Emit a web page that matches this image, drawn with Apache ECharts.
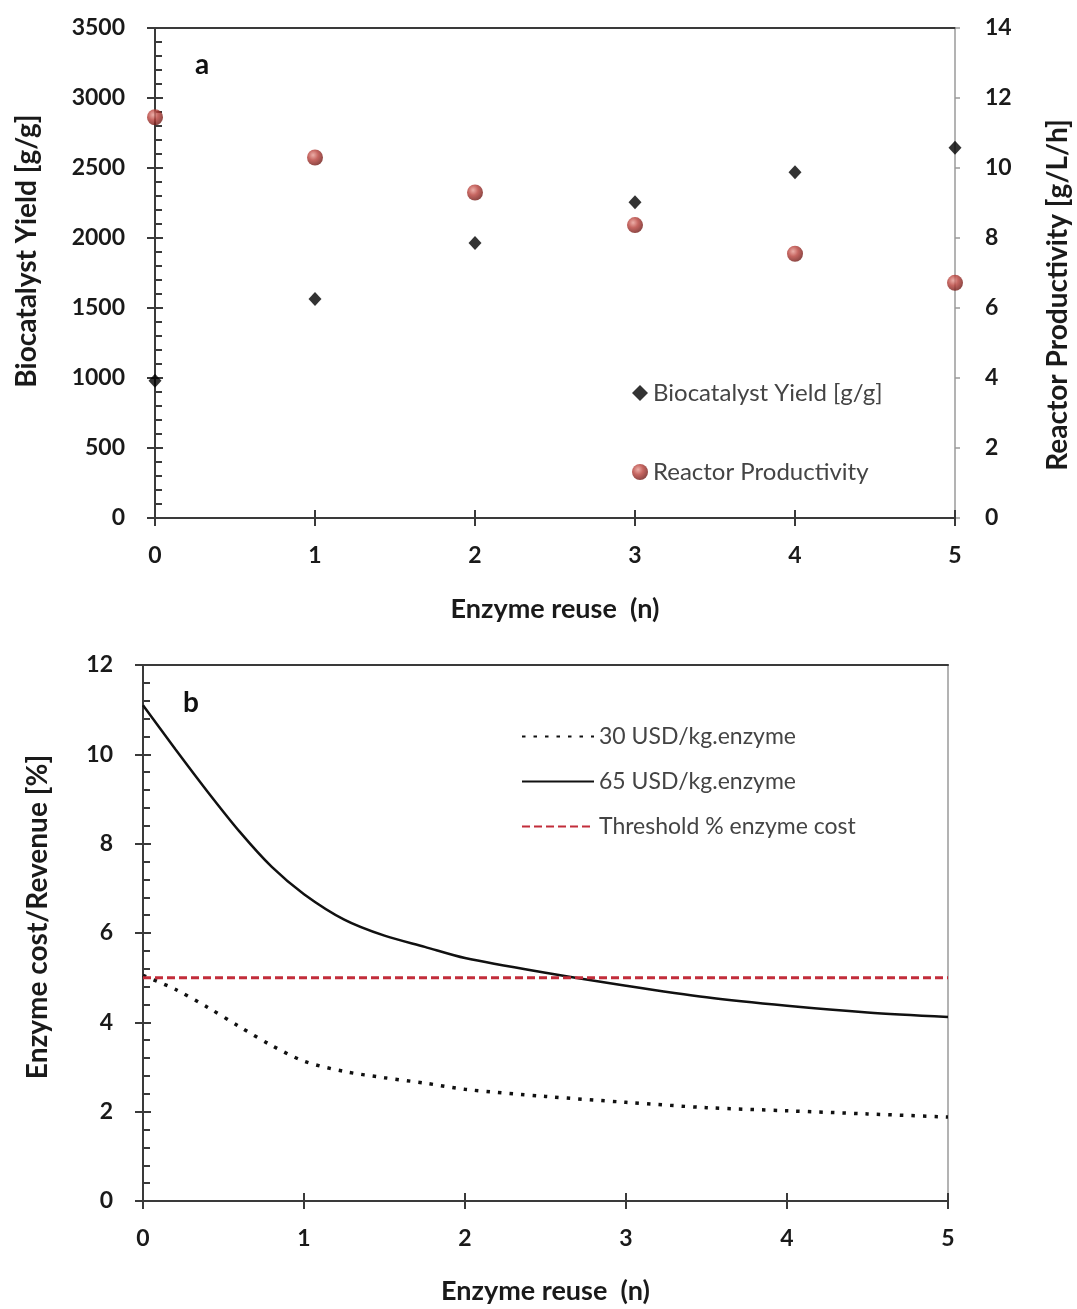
<!DOCTYPE html>
<html lang="en">
<head>
<meta charset="UTF-8">
<title>Enzyme reuse</title>
<script src="https://cdn.jsdelivr.net/npm/echarts@6/dist/echarts.min.js"></script>
<style>
  body { margin: 0; background: #fff; }
  #chart { width: 1077px; height: 1309px; }
</style>
</head>
<body>
<div id="chart"></div>
<script>
  // panel a: values per reuse cycle
  const reuse = [0, 1, 2, 3, 4, 5];
  const biocatYield = [980, 1565, 1965, 2255, 2470, 2645];
  const reactorProd = [11.45, 10.3, 9.3, 8.37, 7.55, 6.72];

  // panel b: curves
  const curveN = [0, 0.2, 0.4, 0.6, 0.8, 1, 1.25, 1.5, 1.75, 2, 2.5, 3, 3.5, 4, 4.5, 5];
  const cost30 = [5.05, 4.74, 4.34, 3.9, 3.48, 3.13, 2.9, 2.76, 2.64, 2.5, 2.34, 2.21, 2.09, 2.02, 1.95, 1.88];
  const cost65 = [11.1, 10.12, 9.17, 8.27, 7.48, 6.87, 6.3, 5.94, 5.69, 5.44, 5.11, 4.82, 4.56, 4.37, 4.22, 4.12];
  const thresholdN = [0, 5];
  const threshold = [5, 5];

  const FONT = 'Lato';
  const dark = '#3a3a3a';

  const chart = echarts.init(document.getElementById('chart'));

  function pairs(xs, ys) {
    return xs.map((x, i) => [x, ys[i]]);
  }

  const tickLabel = {
    fontFamily: FONT, fontWeight: 'bold', fontSize: 23, color: '#1a1a1a',
    formatter: v => String(v)
  };
  const xNameStyle = { fontFamily: FONT, fontWeight: 'bold', fontSize: 27, color: '#1a1a1a' };
  function yName(pad) {
    return { fontFamily: FONT, fontWeight: 'bold', fontSize: 28, color: '#1a1a1a', padding: pad };
  }

  // main x axis (ticks inside) + overlay (ticks outside) + top border line
  function xAxes(grid, nameGap) {
    return [
      {
        gridIndex: grid, type: 'value', min: 0, max: 5, interval: 1, position: 'bottom',
        name: 'Enzyme reuse  (n)', nameLocation: 'middle', nameGap: nameGap, nameTextStyle: xNameStyle,
        axisLine: { onZero: false, lineStyle: { color: dark, width: 2 } },
        axisTick: { inside: true, length: 8, lineStyle: { color: dark, width: 2 } },
        axisLabel: Object.assign({ margin: 26 }, tickLabel),
        splitLine: { show: false }
      },
      {
        gridIndex: grid, type: 'value', min: 0, max: 5, interval: 1, position: 'bottom',
        axisLine: { show: false, onZero: false },
        axisTick: { length: 8, lineStyle: { color: dark, width: 2 } },
        axisLabel: { show: false }, splitLine: { show: false }
      },
      {
        gridIndex: grid, type: 'value', min: 0, max: 5, position: 'top',
        axisLine: { onZero: false, lineStyle: { color: dark, width: 2 } },
        axisTick: { show: false }, axisLabel: { show: false }, splitLine: { show: false }
      }
    ];
  }

  const option = {
    animation: false,
    title: [
      { text: 'a', left: 190, top: 46, textStyle: { fontFamily: FONT, fontWeight: 'bold', fontSize: 28, color: '#111' } },
      { text: 'b', left: 178, top: 684, textStyle: { fontFamily: FONT, fontWeight: 'bold', fontSize: 28, color: '#111' } }
    ],
    legend: [
      {
        orient: 'vertical', left: 627, top: 376, itemGap: 55, itemWidth: 16, itemHeight: 16,
        textStyle: { fontFamily: FONT, fontSize: 24, color: '#444' },
        data: ['Biocatalyst Yield [g/g]', 'Reactor Productivity']
      },
      {
        orient: 'vertical', left: 516, top: 720, itemGap: 22, itemWidth: 72, itemHeight: 14,
        textStyle: { fontFamily: FONT, fontSize: 23, color: '#444' },
        itemStyle: { opacity: 0 },
        data: ['30 USD/kg.enzyme', '65 USD/kg.enzyme', 'Threshold % enzyme cost']
      }
    ],
    grid: [
      { left: 155, right: 122, top: 28, height: 490, outerBoundsMode: 'none', containLabel: false },
      { left: 143, right: 129, top: 665, height: 536, outerBoundsMode: 'none', containLabel: false }
    ],
    xAxis: [].concat(xAxes(0, 78), xAxes(1, 77)),
    yAxis: [
      // panel a left
      {
        gridIndex: 0, type: 'value', min: 0, max: 3500, interval: 500, position: 'left',
        name: 'Biocatalyst Yield [g/g]', nameLocation: 'middle', nameGap: 114,
        nameTextStyle: yName([0, 0, 0, 44]),
        axisLine: { show: true, onZero: false, lineStyle: { color: dark, width: 2 } },
        axisTick: { inside: true, length: 8, lineStyle: { color: dark, width: 2 } },
        minorTick: { show: true, splitNumber: 5, length: 7, lineStyle: { color: dark, width: 2 } },
        axisLabel: Object.assign({ margin: 30 }, tickLabel),
        splitLine: { show: false }
      },
      // panel a right
      {
        gridIndex: 0, type: 'value', min: 0, max: 14, interval: 2, position: 'right',
        name: 'Reactor Productivity [g/L/h]', nameLocation: 'middle', nameGap: 89, nameRotate: 90,
        nameTextStyle: yName([0, 44, 0, 0]),
        axisLine: { show: true, onZero: false, lineStyle: { color: '#9a9a9a', width: 1.5 } },
        axisTick: { length: 5, lineStyle: { color: '#9a9a9a', width: 1.5 } },
        axisLabel: Object.assign({ margin: 30 }, tickLabel),
        splitLine: { show: false }
      },
      // panel a left overlay ticks
      {
        gridIndex: 0, type: 'value', min: 0, max: 3500, interval: 500, position: 'left',
        axisLine: { show: false },
        axisTick: { show: true, length: 8, lineStyle: { color: dark, width: 2 } },
        axisLabel: { show: false }, splitLine: { show: false }
      },
      // panel b left
      {
        gridIndex: 1, type: 'value', min: 0, max: 12, interval: 2, position: 'left',
        name: 'Enzyme cost/Revenue [%]', nameLocation: 'middle', nameGap: 91,
        nameTextStyle: yName([0, 0, 0, 32]),
        axisLine: { show: true, onZero: false, lineStyle: { color: dark, width: 2 } },
        axisTick: { inside: true, length: 8, lineStyle: { color: dark, width: 2 } },
        minorTick: { show: true, splitNumber: 5, length: 7, lineStyle: { color: dark, width: 2 } },
        axisLabel: Object.assign({ margin: 30 }, tickLabel),
        splitLine: { show: false }
      },
      // panel b left overlay ticks
      {
        gridIndex: 1, type: 'value', min: 0, max: 12, interval: 2, position: 'left',
        axisLine: { show: false },
        axisTick: { show: true, length: 8, lineStyle: { color: dark, width: 2 } },
        axisLabel: { show: false }, splitLine: { show: false }
      },
      // panel b right border
      {
        gridIndex: 1, type: 'value', min: 0, max: 12, position: 'right',
        axisLine: { show: true, onZero: false, lineStyle: { color: '#9a9a9a', width: 1.5 } },
        axisTick: { show: false }, axisLabel: { show: false }, splitLine: { show: false }
      }
    ],
    series: [
      {
        name: 'Biocatalyst Yield [g/g]', type: 'scatter', xAxisIndex: 0, yAxisIndex: 0,
        symbol: 'diamond', symbolSize: [13, 14],
        itemStyle: { color: '#000' },
        data: pairs(reuse, biocatYield), z: 4
      },
      {
        name: 'Reactor Productivity', type: 'scatter', xAxisIndex: 0, yAxisIndex: 1,
        symbol: 'circle', symbolSize: 16,
        itemStyle: {
          color: {
            type: 'radial', x: 0.38, y: 0.35, r: 0.7,
            colorStops: [
              { offset: 0, color: '#e79a92' },
              { offset: 0.45, color: '#b8403a' },
              { offset: 1, color: '#6a1512' }
            ]
          }
        },
        data: pairs(reuse, reactorProd), z: 4
      },
      {
        name: '30 USD/kg.enzyme', type: 'line', xAxisIndex: 3, yAxisIndex: 3,
        symbol: 'none', smooth: 0.3,
        lineStyle: { color: '#111', width: 3.5, type: [3.5, 8] },
        itemStyle: { color: '#111' },
        data: pairs(curveN, cost30)
      },
      {
        name: '65 USD/kg.enzyme', type: 'line', xAxisIndex: 3, yAxisIndex: 3,
        symbol: 'none', smooth: 0.3,
        lineStyle: { color: '#111', width: 2.5 },
        itemStyle: { color: '#111' },
        data: pairs(curveN, cost65)
      },
      {
        name: 'Threshold % enzyme cost', type: 'line', xAxisIndex: 3, yAxisIndex: 3,
        symbol: 'none',
        lineStyle: { color: '#c22d3a', width: 3, type: [8, 4] },
        itemStyle: { color: '#c22d3a' },
        data: pairs(thresholdN, threshold)
      }
    ]
  };

  chart.setOption(option);
</script>
</body>
</html>
